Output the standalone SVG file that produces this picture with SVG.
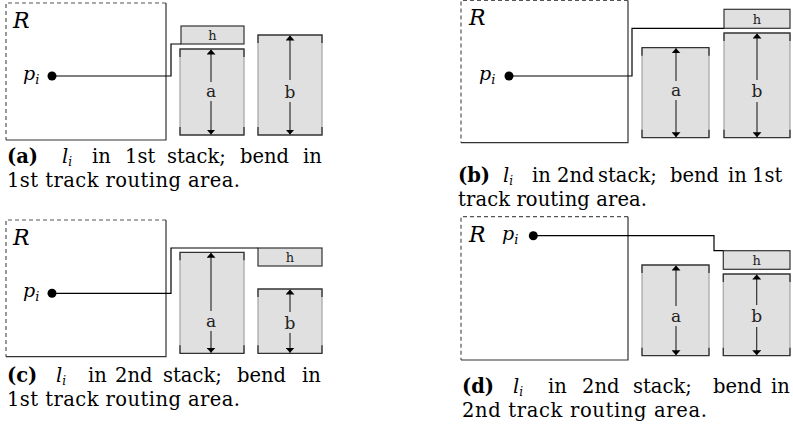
<svg xmlns="http://www.w3.org/2000/svg" width="793" height="432" viewBox="0 0 793 432">
<defs>
<style>
.dash{fill:none;stroke:#555;stroke-width:1.2;stroke-dasharray:4,3}
.solid{fill:none;stroke:#333;stroke-width:1.2}
.wire{fill:none;stroke:#000;stroke-width:1.2}
.bf{fill:#e0e0e0;stroke:none}
.side{stroke:#aaa;stroke-width:1.3;fill:none}
.edge{stroke:#333;stroke-width:1.3;fill:none}
.hb{fill:#e0e0e0;stroke:#333;stroke-width:1.2}
.arr{stroke:#222;stroke-width:1.1;fill:none}
.m{font-family:"DejaVu Serif",serif;font-style:italic;fill:#000}
.lab{font-family:"DejaVu Serif",serif;fill:#222;text-anchor:middle}
.cap{font-family:"DejaVu Serif",serif;font-size:19.5px;fill:#000}
.b{font-weight:bold}
.i{font-style:italic}
</style>
<marker id="ah" viewBox="0 0 10 10" refX="10" refY="5" markerWidth="5" markerHeight="9" markerUnits="userSpaceOnUse" orient="auto" preserveAspectRatio="none">
<path d="M0,0 L10,5 L0,10 Z" fill="#000"/>
</marker>
</defs>

<!-- Panel a -->
<g id="panel-a">
<g id="a-R">
<path class="dash" d="M166,3 H6 V140"/>
<path class="solid" d="M166,3 V140 H6"/>
<text class="m" x="13" y="28" font-size="22">R</text>
<text class="m" x="23" y="80" font-size="19">p<tspan font-size="13" dy="4">i</tspan></text>
</g>
<g id="a-h"><rect class="hb" x="181" y="26" width="63" height="18"/><text class="lab" x="212.5" y="40" font-size="13">h</text></g>
<g id="a-a">
<rect class="bf" x="180" y="49" width="64" height="86"/>
<path class="side" d="M180,49 V135 M244,49 V135"/>
<path class="edge" d="M180,57 V49 H244 V57 M180,127 V135 H244 V127"/>
<text class="lab" x="211" y="97" font-size="17">a</text>
</g>
<g id="a-b">
<rect class="bf" x="258" y="35" width="64" height="100"/>
<path class="side" d="M258,35 V135 M322,35 V135"/>
<path class="edge" d="M258,43 V35 H322 V43 M258,127 V135 H322 V127"/>
<text class="lab" x="290" y="98" font-size="17">b</text>
</g>
<g id="a-connectors">
<path class="wire" d="M52,76 H171 V44 H181"/>
<circle cx="52" cy="76" r="4.5" fill="#000"/>
<path class="arr" marker-end="url(#ah)" d="M211,82 V49.5"/>
<path class="arr" marker-end="url(#ah)" d="M211,101 V134.5"/>
<path class="arr" marker-end="url(#ah)" d="M290,80 V35.5"/>
<path class="arr" marker-end="url(#ah)" d="M290,102 V134.5"/>
</g>
<text class="cap" y="163"><tspan class="b" x="7">(a)</tspan><tspan class="i" x="62">l</tspan><tspan class="i" font-size="12" dy="3">i</tspan><tspan x="92" dy="-3">in</tspan><tspan x="125">1st</tspan><tspan x="167">stack;</tspan><tspan x="240">bend</tspan><tspan x="303">in</tspan></text>
<text class="cap" x="7" y="187" textLength="233" lengthAdjust="spacing">1st track routing area.</text>
</g>

<!-- Panel b -->
<g id="panel-b">
<g id="b-R">
<path class="dash" d="M628,0.5 H461 V142.7"/>
<path class="solid" d="M628,0.5 V142.7 H461"/>
<text class="m" x="469" y="25" font-size="22">R</text>
<text class="m" x="479" y="80" font-size="19">p<tspan font-size="13" dy="4">i</tspan></text>
</g>
<g id="b-h"><rect class="hb" x="724" y="9.3" width="66" height="19"/><text class="lab" x="757" y="23.5" font-size="13">h</text></g>
<g id="b-a">
<rect class="bf" x="642" y="47.7" width="67" height="90"/>
<path class="side" d="M642,47.7 V137.7 M709,47.7 V137.7"/>
<path class="edge" d="M642,55.7 V47.7 H709 V55.7 M642,129.7 V137.7 H709 V129.7"/>
<text class="lab" x="676" y="96" font-size="17">a</text>
</g>
<g id="b-b">
<rect class="bf" x="724" y="33" width="66" height="104.7"/>
<path class="side" d="M724,33 V137.7 M790,33 V137.7"/>
<path class="edge" d="M724,41 V33 H790 V41 M724,129.7 V137.7 H790 V129.7"/>
<text class="lab" x="757" y="97" font-size="17">b</text>
</g>
<g id="b-connectors">
<path class="wire" d="M509,76 H632 V28.3 H724"/>
<circle cx="509" cy="76" r="4.5" fill="#000"/>
<path class="arr" marker-end="url(#ah)" d="M676,81 V48.2"/>
<path class="arr" marker-end="url(#ah)" d="M676,100 V137.2"/>
<path class="arr" marker-end="url(#ah)" d="M757,80 V33.5"/>
<path class="arr" marker-end="url(#ah)" d="M757,102 V137.2"/>
</g>
<text class="cap" y="182"><tspan class="b" x="458">(b)</tspan><tspan class="i" x="503">l</tspan><tspan class="i" font-size="12" dy="3">i</tspan><tspan x="532" dy="-3">in</tspan><tspan x="557">2nd</tspan><tspan x="598">stack;</tspan><tspan x="670">bend</tspan><tspan x="728">in</tspan><tspan x="752">1st</tspan></text>
<text class="cap" x="458" y="206" textLength="189" lengthAdjust="spacing">track routing area.</text>
</g>

<!-- Panel c -->
<g id="panel-c">
<g id="c-R">
<path class="dash" d="M166,220 H6 V356.7"/>
<path class="solid" d="M166,220 V356.7 H6"/>
<text class="m" x="13" y="245" font-size="22">R</text>
<text class="m" x="23" y="297" font-size="19">p<tspan font-size="13" dy="4">i</tspan></text>
</g>
<g id="c-h"><rect class="hb" x="258" y="248" width="64" height="18"/><text class="lab" x="290" y="261.5" font-size="13">h</text></g>
<g id="c-a">
<rect class="bf" x="180" y="252.3" width="64" height="101"/>
<path class="side" d="M180,252.3 V353.3 M244,252.3 V353.3"/>
<path class="edge" d="M180,260.3 V252.3 H244 V260.3 M180,345.3 V353.3 H244 V345.3"/>
<text class="lab" x="211" y="327" font-size="17">a</text>
</g>
<g id="c-b">
<rect class="bf" x="258" y="289" width="64" height="64.3"/>
<path class="side" d="M258,289 V353.3 M322,289 V353.3"/>
<path class="edge" d="M258,297 V289 H322 V297 M258,345.3 V353.3 H322 V345.3"/>
<text class="lab" x="290" y="329" font-size="17">b</text>
</g>
<g id="c-connectors">
<path class="wire" d="M52,293.3 H171 V248 H258"/>
<circle cx="52" cy="293.3" r="4.5" fill="#000"/>
<path class="arr" marker-end="url(#ah)" d="M211,311 V252.8"/>
<path class="arr" marker-end="url(#ah)" d="M211,331 V352.8"/>
<path class="arr" marker-end="url(#ah)" d="M290,312 V289.5"/>
<path class="arr" marker-end="url(#ah)" d="M290,333 V352.8"/>
</g>
<text class="cap" y="382"><tspan class="b" x="7">(c)</tspan><tspan class="i" x="56">l</tspan><tspan class="i" font-size="12" dy="3">i</tspan><tspan x="88" dy="-3">in</tspan><tspan x="115">2nd</tspan><tspan x="163">stack;</tspan><tspan x="237">bend</tspan><tspan x="302">in</tspan></text>
<text class="cap" x="7" y="406" textLength="233" lengthAdjust="spacing">1st track routing area.</text>
</g>

<!-- Panel d -->
<g id="panel-d">
<g id="d-R">
<path class="dash" d="M628,216.7 H461 V360"/>
<path class="solid" d="M628,216.7 V360 H461"/>
<text class="m" x="469" y="242" font-size="22">R</text>
<text class="m" x="502" y="240" font-size="19">p<tspan font-size="13" dy="4">i</tspan></text>
</g>
<g id="d-h"><rect class="hb" x="723.3" y="250.7" width="66.7" height="18.6"/><text class="lab" x="756.7" y="264.5" font-size="13">h</text></g>
<g id="d-a">
<rect class="bf" x="642" y="265" width="67" height="90.7"/>
<path class="side" d="M642,265 V355.7 M709,265 V355.7"/>
<path class="edge" d="M642,273 V265 H709 V273 M642,347.7 V355.7 H709 V347.7"/>
<text class="lab" x="676" y="322" font-size="17">a</text>
</g>
<g id="d-b">
<rect class="bf" x="723.3" y="274" width="66.7" height="81.7"/>
<path class="side" d="M723.3,274 V355.7 M790,274 V355.7"/>
<path class="edge" d="M723.3,282 V274 H790 V282 M723.3,347.7 V355.7 H790 V347.7"/>
<text class="lab" x="756.7" y="322" font-size="17">b</text>
</g>
<g id="d-connectors">
<path class="wire" d="M533.3,235.7 H714 V250.7 H723.3"/>
<circle cx="533.3" cy="235.7" r="4.5" fill="#000"/>
<path class="arr" marker-end="url(#ah)" d="M676,306 V265.5"/>
<path class="arr" marker-end="url(#ah)" d="M676,326 V355.2"/>
<path class="arr" marker-end="url(#ah)" d="M756.7,305 V274.5"/>
<path class="arr" marker-end="url(#ah)" d="M756.7,327 V355.2"/>
</g>
<text class="cap" y="393"><tspan class="b" x="462">(d)</tspan><tspan class="i" x="513">l</tspan><tspan class="i" font-size="12" dy="3">i</tspan><tspan x="548" dy="-3">in</tspan><tspan x="582">2nd</tspan><tspan x="633">stack;</tspan><tspan x="713">bend</tspan><tspan x="771">in</tspan></text>
<text class="cap" x="462" y="417" textLength="245" lengthAdjust="spacing">2nd track routing area.</text>
</g>
</svg>
